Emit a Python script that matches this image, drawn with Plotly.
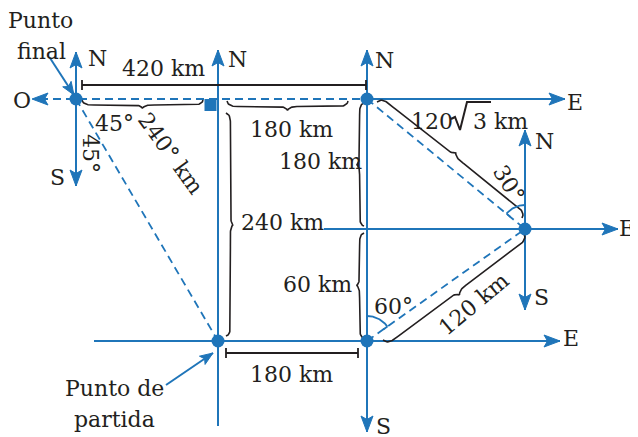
import numpy as np
import plotly.graph_objects as go

BLUE = "#1f75b9"
INK = "#231f20"
FONT = "DejaVu Serif"

# ---- key points (sketch units, y grows downward) ----
pt_name = ["partida", "B", "C", "D", "final"]
pt_x = [218, 367, 525, 367, 76]
pt_y = [341, 341, 229, 99, 99]

# ---- solid blue compass lines ----
ax_x0 = [218, 367, 94, 367, 324, 525, 76]
ax_y0 = [426, 50, 341, 99, 229, 130, 52]
ax_x1 = [218, 367, 560, 565, 618, 525, 76]
ax_y1 = [50, 432, 341, 99, 229, 310, 186]

# ---- dashed blue path lines ----
da_x0 = [40, 76, 367, 367]
da_y0 = [99, 99, 99, 341]
da_x1 = [367, 218, 525, 525]
da_y1 = [99, 341, 229, 229]

# ---- arrow heads (tip, direction in degrees) ----
hd_x = [218, 367, 367, 560, 565, 618, 525, 525, 76, 76, 32]
hd_y = [50, 50, 432, 341, 99, 229, 130, 310, 52, 186, 99]
hd_dir = [90, 90, -90, 0, 0, 0, 90, -90, 90, -90, 180]

# ---- pointer arrows ----
pa_x0 = [50, 166]
pa_y0 = [58, 385]
pa_x1 = [74, 213]
pa_y1 = [95, 353]

# ---- black dimension lines ----
dm_x0 = [82, 226]
dm_x1 = [366, 358]
dm_y = [85, 353]

# ---- braces ----
br_x0 = [82, 227, 226, 364, 364, 377, 383]
br_y0 = [100, 101, 113, 103, 233, 102, 340]
br_x1 = [203, 348, 226, 364, 364, 522, 524]
br_y1 = [100, 101, 336, 226, 338, 218, 234]
br_d = [9, 10, -8, 8, 8, -11, 11]

# ---- angle arcs ----
arc_cx = [367, 525]
arc_cy = [341, 229]
arc_r = [25, 24]
arc_a0 = [90, 90]
arc_a1 = [35.3, 140.3]

# ---- radical sign of 120√3 ----
rad_x = [451, 455, 460, 467, 491]
rad_y = [119, 117, 130, 102, 102]

# ---- labels ----
lb_text = ["Punto", "final", "N", "O", "S", "45°", "45°", "240° km", "420 km",
           "N", "N", "180 km", "180 km", "120", "3", "km", "30°", "N", "E", "E",
           "240 km", "60 km", "60°", "180 km", "S", "S", "120 km", "E",
           "Punto de", "partida"]
lb_x = [40, 41, 97, 22, 57, 114, 91, 171, 163,
        237, 384, 291, 320, 432, 480, 511, 509, 544, 575, 627,
        282, 317, 393, 291, 383, 541, 473, 571,
        114, 114]
lb_y = [20, 51, 58, 100, 177, 123, 153, 153, 68,
        59, 60, 129, 161, 121, 121, 121, 183, 141, 102, 228,
        222, 284, 306, 374, 426, 297, 304, 338,
        388, 419]
lb_ang = [0, 0, 0, 0, 0, 0, 90, 54, 0,
          0, 0, 0, 0, 0, 0, 0, 58, 0, 0, 0,
          0, 0, 0, 0, 0, 0, -40, 0,
          0, 0]

fig = go.Figure()


def add_line(xs, ys, color, width, dash=None):
    fig.add_trace(go.Scatter(x=xs, y=ys, mode="lines", hoverinfo="skip",
                             line=dict(color=color, width=width, dash=dash),
                             showlegend=False))


def add_head(tx, ty, deg, L=16, w=6, color=BLUE):
    a = np.radians(deg)
    u = np.array([np.cos(a), -np.sin(a)])
    n = np.array([-u[1], u[0]])
    T = np.array([tx, ty], float)
    B = T - L * u
    N = T - 0.78 * L * u
    P = [T, B + w * n, N, B - w * n, T]
    fig.add_trace(go.Scatter(x=[p[0] for p in P], y=[p[1] for p in P], mode="lines",
                             fill="toself", fillcolor=color, hoverinfo="skip",
                             line=dict(color=color, width=1), showlegend=False))


def brace(x0, y0, x1, y1, depth, n=200):
    p0 = np.array([x0, y0], float)
    p1 = np.array([x1, y1], float)
    L = np.linalg.norm(p1 - p0)
    d = (p1 - p0) / L
    nrm = np.array([-d[1], d[0]])
    a = min(9.0 / L, 0.2)
    b = min(9.0 / L, 0.2)
    t = np.linspace(0, 1, n)
    u = np.where(t <= 0.5, t, 1 - t)
    s1 = np.sqrt(np.clip(1 - (1 - np.minimum(u / a, 1)) ** 2, 0, 1))
    v = np.clip((u - (0.5 - b)) / b, 0, 1)
    s2 = 1 - np.sqrt(np.clip(1 - v ** 2, 0, 1))
    off = depth * (0.55 * s1 + 0.45 * s2)
    pts = p0[None, :] + np.outer(t * L, d) + np.outer(off, nrm)
    add_line(pts[:, 0], pts[:, 1], INK, 1.6)


# solid compass lines
for i in range(len(ax_x0)):
    add_line([ax_x0[i], ax_x1[i]], [ax_y0[i], ax_y1[i]], BLUE, 2)

# dashed path lines
for i in range(len(da_x0)):
    add_line([da_x0[i], da_x1[i]], [da_y0[i], da_y1[i]], BLUE, 1.8, dash="8px,5px")

# arrow heads
for i in range(len(hd_x)):
    add_head(hd_x[i], hd_y[i], hd_dir[i])

# pointer arrows
for i in range(len(pa_x0)):
    add_line([pa_x0[i], pa_x1[i]], [pa_y0[i], pa_y1[i]], BLUE, 2)
    deg = np.degrees(np.arctan2(-(pa_y1[i] - pa_y0[i]), pa_x1[i] - pa_x0[i]))
    add_head(pa_x1[i], pa_y1[i], deg, L=13, w=5)

# dimension lines with end ticks
for i in range(len(dm_x0)):
    add_line([dm_x0[i], dm_x1[i]], [dm_y[i], dm_y[i]], INK, 1.8)
    add_line([dm_x0[i], dm_x0[i]], [dm_y[i] - 5, dm_y[i] + 5], INK, 1.8)
    add_line([dm_x1[i], dm_x1[i]], [dm_y[i] - 5, dm_y[i] + 5], INK, 1.8)

# braces
for i in range(len(br_x0)):
    brace(br_x0[i], br_y0[i], br_x1[i], br_y1[i], br_d[i])

# angle arcs
for i in range(len(arc_cx)):
    ang = np.radians(np.linspace(arc_a0[i], arc_a1[i], 60))
    xs = arc_cx[i] + arc_r[i] * np.cos(ang)
    ys = arc_cy[i] - arc_r[i] * np.sin(ang)
    add_line(xs, ys, BLUE, 1.8)
    e = np.radians(arc_a1[i])
    r0, r1 = arc_r[i] - 5, arc_r[i]
    add_line([arc_cx[i] + r0 * np.cos(e), arc_cx[i] + r1 * np.cos(e)],
             [arc_cy[i] - r0 * np.sin(e), arc_cy[i] - r1 * np.sin(e)], BLUE, 1.8)

# points
fig.add_trace(go.Scatter(x=pt_x, y=pt_y, mode="markers", hoverinfo="skip",
                         marker=dict(color=BLUE, size=13), showlegend=False))
# right-angle square marker
fig.add_trace(go.Scatter(x=[210.5], y=[105], mode="markers", hoverinfo="skip",
                         marker=dict(color=BLUE, size=12, symbol="square"), showlegend=False))

# radical sign
add_line(rad_x, rad_y, INK, 2)

for i in range(len(lb_text)):
    fig.add_annotation(x=lb_x[i], y=lb_y[i], text=lb_text[i], showarrow=False,
                       textangle=lb_ang[i], xanchor="center", yanchor="middle",
                       font=dict(family=FONT, size=22, color=INK))

# page body has an 8px margin: the figure covers page pixels 8..638 / 8..437
OFF = 8
fig.update_xaxes(range=[OFF, 638], visible=False, fixedrange=True)
fig.update_yaxes(range=[437, OFF], visible=False, fixedrange=True)
fig.update_layout(width=638 - OFF, height=437 - OFF, margin=dict(l=0, r=0, t=0, b=0),
                  plot_bgcolor="white", paper_bgcolor="white", showlegend=False)

fig.write_html("out.html")
